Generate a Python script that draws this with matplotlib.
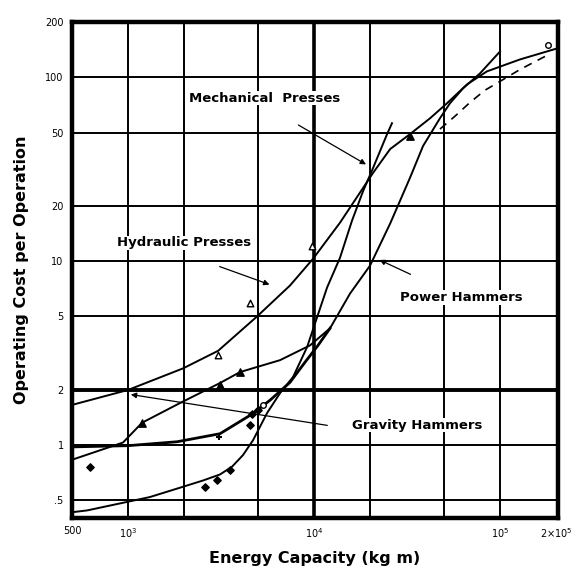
import matplotlib
matplotlib.use("Agg")
import matplotlib.pyplot as plt

# curves (energy kg m, cost per operation)
hyd_x = [500, 1000, 1980, 3050, 4940, 7430, 9880, 13800, 20760, 25650, 32800,
         42070, 51880, 66500, 85100, 128200, 202400]
hyd_y = [1.65, 1.99, 2.61, 3.25, 5.0, 7.37, 10.3, 16.2, 30.2, 40.7, 49.1,
         59.9, 72.3, 91.6, 107.8, 125.2, 143.6]

pow_x = [500, 940, 1190, 1905, 3120, 4000, 6560, 9520, 12190, 15630, 20000,
         25650, 32800, 38550, 47540, 53830, 63240, 78050, 100000]
pow_y = [0.83, 1.03, 1.32, 1.69, 2.17, 2.49, 2.89, 3.48, 4.31, 6.67, 9.45,
         16.0, 28.4, 42.3, 59.9, 72.3, 87.1, 105.1, 138.3]

grav_x = [500, 1000, 1835, 3120, 4640, 5800, 7430, 8950, 10510, 12190]
grav_y = [0.975, 0.99, 1.04, 1.15, 1.47, 1.75, 2.19, 2.82, 3.48, 4.31]

mech_x = [500, 603, 1310, 1905, 2530, 3120, 3620, 4150, 4700, 5590, 6560, 7710,
          9170, 10380, 11750, 13800, 16000, 18370, 20760, 24700, 26250]
mech_y = [0.43, 0.44, 0.52, 0.585, 0.64, 0.69, 0.76, 0.88, 1.06, 1.49, 1.91, 2.34,
          3.40, 4.94, 7.18, 10.45, 16.6, 24.1, 32.1, 49.1, 56.3]

dash_x = [47540, 57280, 69020, 83000, 100000, 128200, 174600]
dash_y = [52.3, 61.5, 73.1, 85.1, 95.1, 110.4, 130.0]

# plotted test points
tri_open_x = [3050, 4530, 9750]
tri_open_y = [3.07, 5.89, 12.1]
tri_fill_x = [1190, 3120, 4000, 32800]
tri_fill_y = [1.32, 2.11, 2.49, 48.0]
dia_x = [625, 2600, 3010, 3530, 4530, 4640, 5020]
dia_y = [0.76, 0.59, 0.645, 0.73, 1.28, 1.47, 1.55]
plus_x = [3090]
plus_y = [1.10]
circ_x = [5320, 181100]
circ_y = [1.65, 150.0]

x_ticks = [500, 1000, 10000, 100000, 200000]
x_labels = ["500", "10$^3$", "10$^4$", "10$^5$", "2×10$^5$"]
y_ticks = [0.5, 1, 2, 5, 10, 20, 50, 100, 200]
y_labels = [".5", "1", "2", "5", "10", "20", "50", "100", "200"]
x_grid = [1000, 2000, 5000, 10000, 20000, 50000, 100000]
y_grid = [0.5, 1, 2, 5, 10, 20, 50, 100]

fig = plt.figure(figsize=(5.79, 5.84), dpi=100)
ax = fig.add_axes([0.1244, 0.113, 0.8394, 0.8493])
ax.set_xscale("log")
ax.set_yscale("log")
ax.set_xlim(500, 205000)
ax.set_ylim(0.4, 198)

for gx in x_grid:
    ax.axvline(gx, color="black", lw=1.4 if gx != 10000 else 2.6, zorder=1)
for gy in y_grid:
    ax.axhline(gy, color="black", lw=1.4 if gy != 2 else 2.8, zorder=1)

for s in ax.spines.values():
    s.set_linewidth(3.2)

ax.plot(hyd_x, hyd_y, color="black", lw=1.4, zorder=3)
ax.plot(pow_x, pow_y, color="black", lw=1.4, zorder=3)
ax.plot(grav_x, grav_y, color="black", lw=2.0, zorder=3)
ax.plot(mech_x, mech_y, color="black", lw=1.4, zorder=3)
ax.plot(dash_x, dash_y, color="black", lw=1.2, ls=(0, (5, 4)), zorder=3)

ax.scatter(tri_open_x, tri_open_y, marker="^", s=22, facecolors="white",
           edgecolors="black", linewidths=1, zorder=4)
ax.scatter(tri_fill_x, tri_fill_y, marker="^", s=28, color="black", zorder=4)
ax.scatter(dia_x, dia_y, marker="D", s=14, color="black", zorder=4)
ax.scatter(plus_x, plus_y, marker="+", s=25, color="black", zorder=4)
ax.scatter(circ_x, circ_y, marker="o", s=16, facecolors="white",
           edgecolors="black", linewidths=1, zorder=4)

ax.set_xticks(x_ticks)
ax.set_xticklabels(x_labels)
ax.set_yticks(y_ticks)
ax.set_yticklabels(y_labels)
ax.minorticks_off()
ax.tick_params(length=0, labelsize=7, pad=6)

ax.set_xlabel("Energy Capacity (kg m)", fontsize=11.5, fontweight="bold", labelpad=8)
ax.set_ylabel("Operating Cost per Operation", fontsize=11.5, fontweight="bold", labelpad=12)

arrow = dict(arrowstyle="-|>", color="black", lw=0.9, mutation_scale=8)
box = dict(facecolor="white", edgecolor="none", pad=0.5)
ax.text(5450, 76.9, "Mechanical  Presses", fontsize=9.5, fontweight="bold",
        ha="center", va="center", zorder=5, bbox=box)
ax.annotate("", xy=(19600, 33), xytext=(8000, 56), arrowprops=arrow, zorder=5)
ax.text(2000, 12.6, "Hydraulic Presses", fontsize=9.5, fontweight="bold",
        ha="center", va="center", zorder=5, bbox=box)
ax.annotate("", xy=(5950, 7.37), xytext=(3010, 9.45), arrowprops=arrow, zorder=5)
ax.text(61700, 6.34, "Power Hammers", fontsize=9.5, fontweight="bold",
        ha="center", va="center", zorder=5, bbox=box)
ax.annotate("", xy=(21810, 10.3), xytext=(34060, 8.35), arrowprops=arrow, zorder=5)
ax.text(35800, 1.28, "Gravity Hammers", fontsize=9.5, fontweight="bold",
        ha="center", va="center", zorder=5, bbox=box)
ax.annotate("", xy=(1000, 1.89), xytext=(12190, 1.27), arrowprops=arrow, zorder=5)

fig.savefig("out.png", dpi=100)
